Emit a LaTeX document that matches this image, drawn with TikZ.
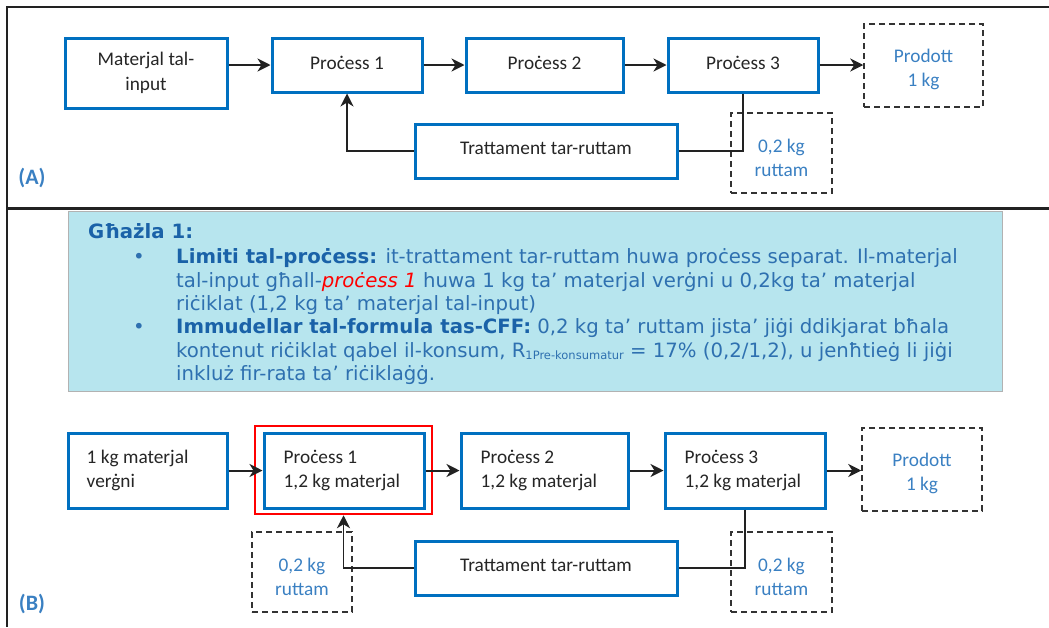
\documentclass[tikz,border=0pt]{standalone}
\usepackage{fontspec}
\setmainfont{Carlito}
\newfontfamily\verd{DejaVu Sans}
\usetikzlibrary{arrows.meta}
\definecolor{boxblue}{HTML}{0070C0}
\definecolor{lblue}{HTML}{3A80C2}
\definecolor{txtblue}{HTML}{2E70B0}
\definecolor{boldblue}{HTML}{1A62A8}
\definecolor{panelfill}{HTML}{B7E5EE}
\definecolor{framecol}{HTML}{222222}
\definecolor{dashcol}{HTML}{333333}
\tikzset{
  pbox/.style={draw=boxblue, line width=3pt, fill=white, align=center, inner sep=2pt,
    font=\fontsize{19.3}{24.5}\selectfont, text=black!85},
  sbox/.style={pbox, text depth=5pt},
  btext/.style={anchor=west, align=left, inner sep=0pt, font=\fontsize{19.3}{24.5}\selectfont, text=black!85},
  dbox/.style={draw=dashcol, line width=1.5pt, dash pattern=on 6pt off 4pt},
  dtext/.style={align=center, inner sep=0pt, font=\fontsize{19.3}{24}\selectfont, text=lblue},
  arr/.style={draw=framecol, line width=2pt, -{Stealth[length=13pt,width=13pt,inset=4pt]}},
  farr/.style={draw=framecol, line width=1.3pt, -{Stealth[length=13pt,width=13pt,inset=4pt]}},
  conn/.style={draw=framecol, line width=1.2pt},
  frame/.style={draw=framecol, line width=2pt},
  plabel/.style={font=\bfseries\fontsize{22}{22}\selectfont, text=lblue},
  ptxt/.style={anchor=base west, inner sep=0pt, text=txtblue, font=\verd\fontsize{19.7}{23}\selectfont},
}
\begin{document}
\begin{tikzpicture}[x=1pt,y=-1pt]
\useasboundingbox (0,0) rectangle (1049,627);
% frame
\coordinate (ftl) at (7,7);
\coordinate (ftr) at (1049,7);
\coordinate (fdl) at (7,208.5);
\coordinate (fdr) at (1049,208.5);
\coordinate (fbl) at (7,627);
\draw[frame] (ftr) -- (ftl) -- (fbl);
\draw[frame, line width=3pt] (fdl) -- (fdr);

% ===== (A) =====
\node[pbox, minimum width=162pt, minimum height=70pt] (mA) at (146,73) {Materjal tal-\\input};
\node[sbox, minimum width=150pt, minimum height=54pt] (p1A) at (347,65) {Proċess 1};
\node[sbox, minimum width=157pt, minimum height=54pt] (p2A) at (544.5,65) {Proċess 2};
\node[sbox, minimum width=150pt, minimum height=54pt] (p3A) at (743,65) {Proċess 3};
\node[dbox, minimum width=119pt, minimum height=83pt] (prodA) at (923.5,65.5) {};
\node[dtext] (prodAt) at ([yshift=-4pt]prodA.center) {Prodott\\1 kg};
\node[sbox, minimum width=262pt, minimum height=54pt] (tA) at (546,151) {Trattament tar-ruttam};
\node[dbox, minimum width=101pt, minimum height=80pt] (rA) at (781.5,153) {};
\node[dtext] (rAt) at ([yshift=-4.5pt]rA.center) {0,2 kg\\ruttam};
\draw[arr] (mA.east |- p1A.west) -- (p1A.west);
\draw[arr] (p1A.east) -- (p2A.west);
\draw[arr] (p2A.east) -- (p3A.west);
\draw[arr] (p3A.east) -- (p3A.east -| prodA.west);
\draw[farr] (tA.west) -| (p1A.south);
\draw[conn] (p3A.south) |- (tA.east);
\node[plabel] (labA) at (32,178) {(A)};

% ===== panel =====
\node[draw=black!30, line width=0.8pt, fill=panelfill, minimum width=934pt, minimum height=180pt, inner sep=0pt] (panel) at (535,301) {};
\node[ptxt, text=boldblue, font=\verd\bfseries\fontsize{19.7}{23}\selectfont] (head) at (88,238) {Għażla 1:};
\node[ptxt] (bul1) at (133,263) {•};
\node[ptxt] (bul2) at (133,333) {•};
\node[ptxt] (l1) at (176,263) {{\bfseries\color{boldblue}Limiti tal-proċess:} it-trattament tar-ruttam huwa proċess separat. Il-materjal};
\node[ptxt] (l2) at (176,287) {tal-input għall-{\itshape\color{red}proċess 1} huwa 1 kg ta’ materjal verġni u 0,2kg ta’ materjal};
\node[ptxt] (l3) at (176,310) {riċiklat (1,2 kg ta’ materjal tal-input)};
\node[ptxt] (l4) at (176,333) {{\bfseries\color{boldblue}Immudellar tal-formula tas-CFF:} 0,2 kg ta’ ruttam jista’ jiġi ddikjarat bħala};
\node[ptxt] (l5) at (176,357) {kontenut riċiklat qabel il-konsum, R{\fontsize{11.5}{11.5}\selectfont\raisebox{-2pt}{1Pre-konsumatur}} = 17\% (0,2/1,2), u jenħtieġ li jiġi};
\node[ptxt] (l6) at (176,380) {inkluż fir-rata ta’ riċiklaġġ.};

% ===== (B) =====
\node[draw=red, line width=2.5pt, minimum width=177pt, minimum height=88pt, inner sep=0pt] (red) at (343.5,470) {};
\node[pbox, minimum width=159pt, minimum height=75pt] (mB) at (147.5,470.5) {};
\node[btext] (mBt) at ([xshift=20pt]mB.west) {1 kg materjal\\verġni};
\node[pbox, minimum width=160pt, minimum height=75pt] (p1B) at (344,470.5) {};
\node[btext] (p1Bt) at ([xshift=21pt]p1B.west) {Proċess 1\\1,2 kg materjal};
\node[pbox, minimum width=167pt, minimum height=75pt] (p2B) at (544.5,470.5) {};
\node[btext] (p2Bt) at ([xshift=21pt]p2B.west) {Proċess 2\\1,2 kg materjal};
\node[pbox, minimum width=160pt, minimum height=75pt] (p3B) at (745,470.5) {};
\node[btext] (p3Bt) at ([xshift=21pt]p3B.west) {Proċess 3\\1,2 kg materjal};
\node[dbox, minimum width=120pt, minimum height=83pt] (prodB) at (922,469.5) {};
\node[dtext] (prodBt) at ([yshift=-3.5pt]prodB.center) {Prodott\\1 kg};
\node[sbox, minimum width=262pt, minimum height=54pt] (tB) at (546,568) {Trattament tar-ruttam};
\node[dbox, minimum width=100pt, minimum height=80pt] (rBL) at (302,572) {};
\node[dtext] (rBLt) at ([yshift=-5pt]rBL.center) {0,2 kg\\ruttam};
\node[dbox, minimum width=101pt, minimum height=80pt] (rBR) at (781.5,572) {};
\node[dtext] (rBRt) at ([yshift=-5pt]rBR.center) {0,2 kg\\ruttam};
\draw[arr] (mB.east) -- (p1B.west);
\draw[arr] (p1B.east) -- (p2B.west);
\draw[arr] (p2B.east) -- (p3B.west);
\draw[arr] (p3B.east) -- (p3B.east -| prodB.west);
\draw[farr] (tB.west) -| (red.south);
\draw[conn] (p3B.south) |- (tB.east);
\node[plabel] (labB) at (32,604) {(B)};
\end{tikzpicture}
\end{document}
